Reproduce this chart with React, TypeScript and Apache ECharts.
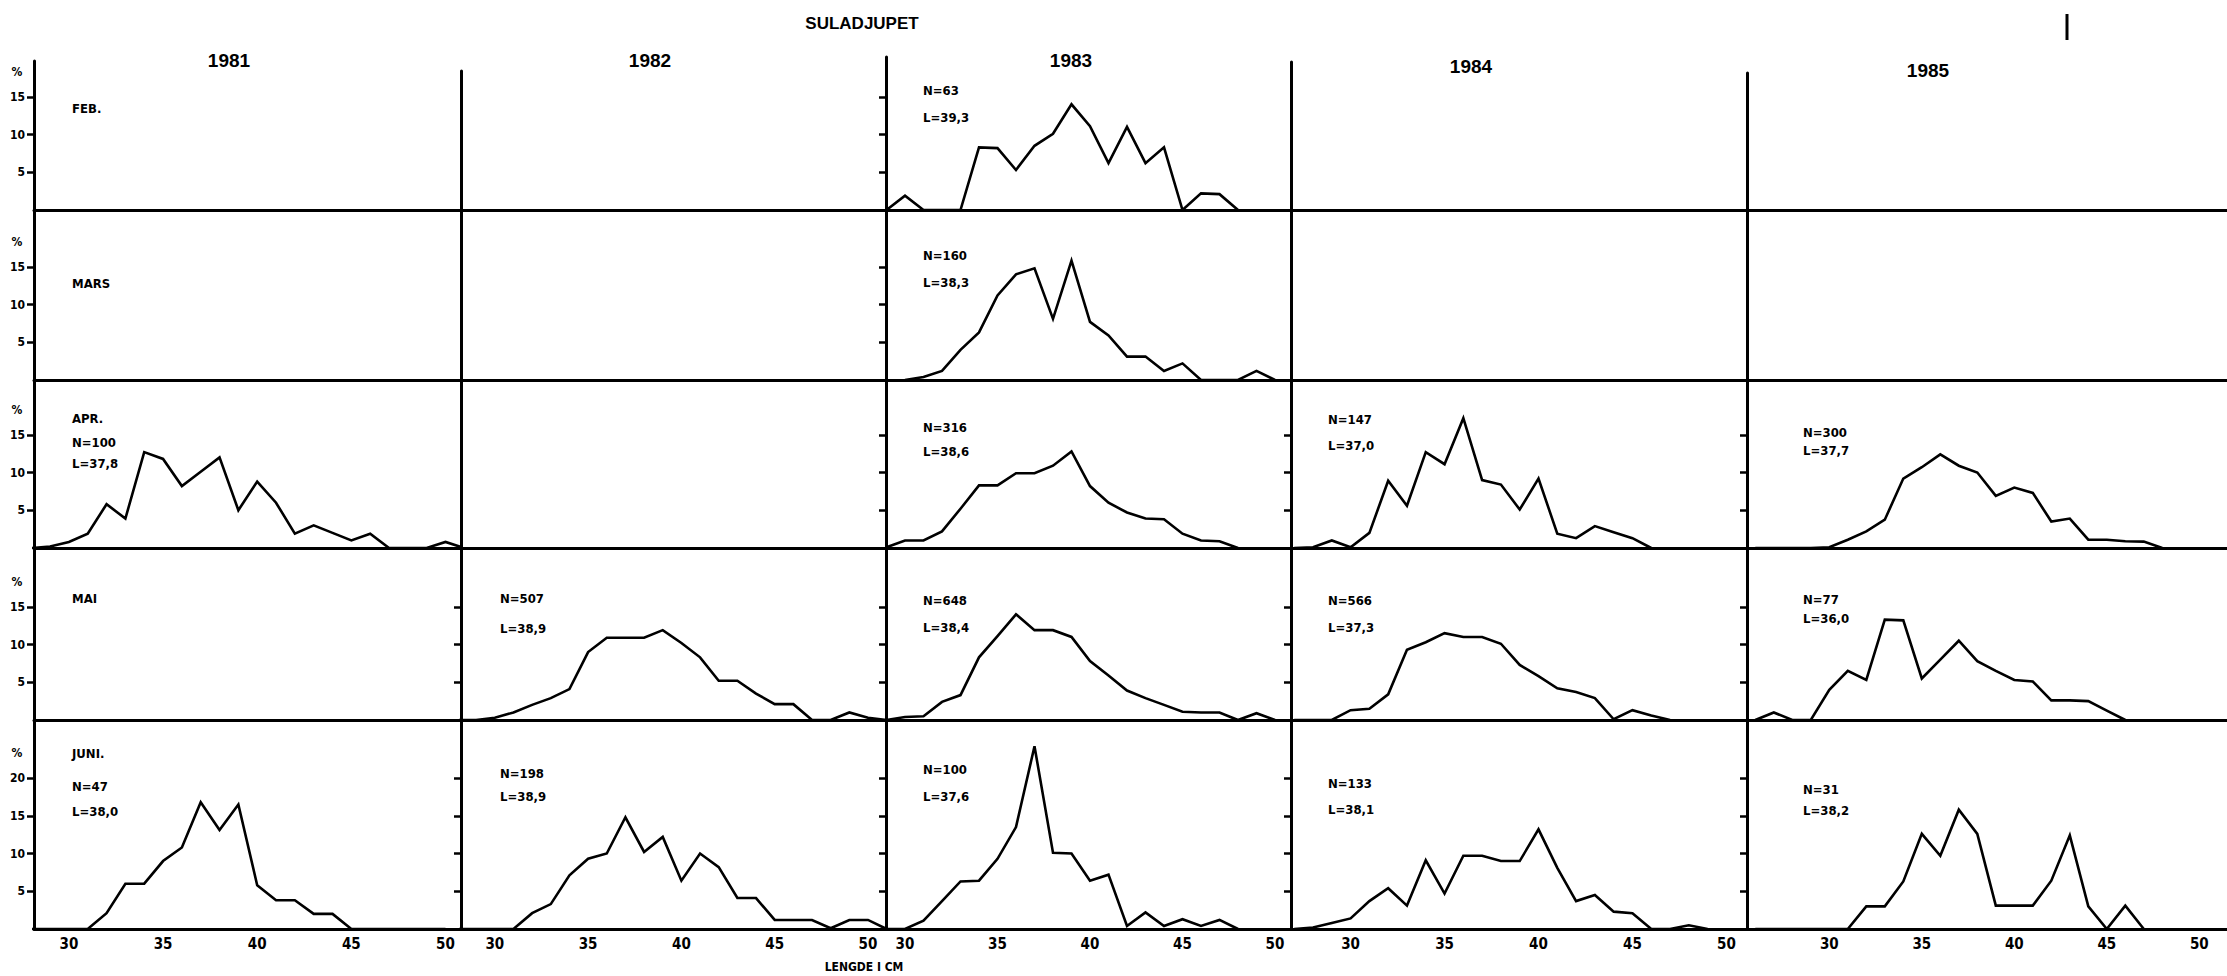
import React, { useEffect, useRef } from 'react';
import * as echarts from 'echarts';

// ---------- labels ----------
const title = 'SULADJUPET';
const years = ['1981', '1982', '1983', '1984', '1985'];
const months = ['FEB.', 'MARS', 'APR.', 'MAI', 'JUNI.'];
const xAxisTitle = 'LENGDE I CM';
const xTicks = [30, 35, 40, 45, 50];
const yTicksUpper = [5, 10, 15];
const yTicksJune = [5, 10, 15, 20];

const sampleN = [
  ['', '', 'N=63', '', ''],
  ['', '', 'N=160', '', ''],
  ['N=100', '', 'N=316', 'N=147', 'N=300'],
  ['', 'N=507', 'N=648', 'N=566', 'N=77'],
  ['N=47', 'N=198', 'N=100', 'N=133', 'N=31'],
];
const meanL = [
  ['', '', 'L=39,3', '', ''],
  ['', '', 'L=38,3', '', ''],
  ['L=37,8', '', 'L=38,6', 'L=37,0', 'L=37,7'],
  ['', 'L=38,9', 'L=38,4', 'L=37,3', 'L=36,0'],
  ['L=38,0', 'L=38,9', 'L=37,6', 'L=38,1', 'L=38,2'],
];

// ---------- data: percent per 1-cm length class, first class given by *Start ----------
const feb1983Start = 29;
const feb1983 = [0, 1.9, 0, 0, 0, 8.3, 8.2, 5.3, 8.5, 10.1, 14.0, 11.1, 6.2, 11.0, 6.2, 8.3, 0, 2.2, 2.1, 0];

const mars1983Start = 30;
const mars1983 = [0, 0.4, 1.2, 4.0, 6.3, 11.2, 14.0, 14.8, 8.1, 15.8, 7.7, 5.9, 3.1, 3.1, 1.2, 2.2, 0, 0, 0, 1.2, 0];

const apr1981Start = 28;
const apr1981 = [0, 0.2, 0.8, 1.9, 5.8, 3.9, 12.7, 11.8, 8.2, 10.1, 12.0, 5.0, 8.8, 6.0, 1.9, 3.0, 2.0, 1.0, 1.9, 0, 0, 0, 0.8, 0];
const apr1983Start = 29;
const apr1983 = [0.1, 1.0, 1.0, 2.2, 5.2, 8.3, 8.3, 9.9, 9.9, 10.9, 12.8, 8.2, 6.0, 4.7, 3.9, 3.8, 1.9, 1.0, 0.9, 0];
const apr1984Start = 27;
const apr1984 = [0, 0.1, 1.0, 0.1, 2.0, 8.9, 5.6, 12.7, 11.1, 17.2, 9.0, 8.4, 5.1, 9.2, 1.9, 1.3, 2.9, 2.1, 1.3, 0];
const apr1985Start = 26;
const apr1985 = [0, 0, 0, 0, 0.1, 1.1, 2.2, 3.75, 9.2, 10.7, 12.4, 10.9, 10.0, 6.9, 8.0, 7.3, 3.5, 3.9, 1.1, 1.1, 0.9, 0.85, 0];

const mai1982Start = 28;
const mai1982 = [0, 0, 0.3, 1.0, 2.0, 2.9, 4.1, 9.0, 10.9, 10.9, 10.9, 11.9, 10.2, 8.3, 5.2, 5.2, 3.5, 2.1, 2.1, 0, 0, 1.0, 0.3, 0];
const mai1983Start = 29;
const mai1983 = [0, 0.4, 0.5, 2.4, 3.3, 8.3, 11.1, 14.0, 11.9, 11.9, 11.0, 7.8, 5.9, 3.9, 2.9, 2.0, 1.1, 1.0, 1.0, 0, 0.9, 0];
const mai1984Start = 27;
const mai1984 = [0, 0, 0, 1.3, 1.5, 3.4, 9.3, 10.3, 11.5, 11.0, 11.0, 10.1, 7.3, 5.8, 4.2, 3.7, 2.9, 0.1, 1.3, 0.6, 0];
const mai1985Start = 26;
const mai1985 = [0, 1.0, 0, 0, 4.0, 6.5, 5.3, 13.3, 13.2, 5.5, 8.0, 10.5, 7.8, 6.5, 5.3, 5.1, 2.6, 2.6, 2.5, 1.25, 0];

const jun1981Start = 28;
const jun1981 = [0, 0, 0, 0, 2.1, 6.0, 6.0, 9.0, 10.8, 16.8, 13.1, 16.5, 5.8, 3.8, 3.8, 2.0, 2.0, 0, 0, 0, 0, 0, 0];
const jun1982Start = 28;
const jun1982 = [0, 0, 0, 0, 2.1, 3.3, 7.1, 9.3, 10.0, 14.8, 10.2, 12.2, 6.4, 10.0, 8.2, 4.1, 4.1, 1.2, 1.2, 1.2, 0.1, 1.2, 1.2, 0];
const jun1983Start = 29;
const jun1983 = [0, 0, 1.1, 3.7, 6.3, 6.4, 9.3, 13.5, 24.2, 10.1, 10.0, 6.4, 7.2, 0.4, 2.2, 0.4, 1.3, 0.4, 1.2, 0];
const jun1984Start = 27;
const jun1984 = [0, 0.2, 0.8, 1.4, 3.7, 5.4, 3.1, 9.1, 4.7, 9.7, 9.7, 9.0, 9.0, 13.2, 8.1, 3.7, 4.5, 2.3, 2.1, 0, 0, 0.5, 0];
const jun1985Start = 26;
const jun1985 = [0, 0, 0, 0, 0, 0, 3.0, 3.0, 6.3, 12.6, 9.7, 15.8, 12.6, 3.1, 3.1, 3.1, 6.4, 12.4, 3.0, 0, 3.1, 0];

type Panel = { start: number; values: number[] } | null;
const panelData: Panel[][] = [
  [null, null, { start: feb1983Start, values: feb1983 }, null, null],
  [null, null, { start: mars1983Start, values: mars1983 }, null, null],
  [
    { start: apr1981Start, values: apr1981 },
    null,
    { start: apr1983Start, values: apr1983 },
    { start: apr1984Start, values: apr1984 },
    { start: apr1985Start, values: apr1985 },
  ],
  [
    null,
    { start: mai1982Start, values: mai1982 },
    { start: mai1983Start, values: mai1983 },
    { start: mai1984Start, values: mai1984 },
    { start: mai1985Start, values: mai1985 },
  ],
  [
    { start: jun1981Start, values: jun1981 },
    { start: jun1982Start, values: jun1982 },
    { start: jun1983Start, values: jun1983 },
    { start: jun1984Start, values: jun1984 },
    { start: jun1985Start, values: jun1985 },
  ],
];

// ---------- layout ----------
const W = 2227;
const H = 976;
const colEdges = [34, 461, 886, 1291, 1747, 2227];
const colTops = [61, 71, 57, 62, 73];
const rowBaselines = [210, 380, 548, 720, 929];
const tick30Px = [68.9, 494.8, 905, 1350.6, 1829.3];
const pxPerCm = [18.83, 18.66, 18.5, 18.79, 18.5];
const PX_PER_PCT = 7.55;
const yearX = [229, 650, 1071, 1471, 1928];
const yearY = [60, 60, 60, 66, 70];
const monthY = [108, 283, 418, 598, 753];
const pctLevel = [18.3, 18.3, 18.3, 18.3, 23.3];
const noteX = [72, 500, 923, 1328, 1803];
const noteNY = [
  [0, 0, 90, 0, 0],
  [0, 0, 255, 0, 0],
  [442, 0, 427, 419, 432],
  [0, 598, 600, 600, 599],
  [786, 773, 769, 783, 789],
];
const noteLY = [
  [0, 0, 117, 0, 0],
  [0, 0, 282, 0, 0],
  [463, 0, 451, 445, 450],
  [0, 628, 627, 627, 618],
  [811, 796, 796, 809, 810],
];

const NARROW = '"Liberation Sans Narrow", "DejaVu Sans Condensed", "Roboto Condensed", "Liberation Sans", sans-serif';
const WIDE = '"Liberation Sans", "DejaVu Sans", sans-serif';

function text(t: string, x: number, y: number, font: string, align = 'left') {
  return {
    type: 'text',
    x,
    y,
    silent: true,
    style: {
      text: t,
      fill: '#000',
      font,
      align,
      textAlign: align,
      verticalAlign: 'middle',
      textVerticalAlign: 'middle',
    },
  };
}

function buildOption() {
  const grids: any[] = [];
  const xAxes: any[] = [];
  const yAxes: any[] = [];
  const series: any[] = [];
  const elements: any[] = [];

  for (let r = 0; r < 5; r++) {
    for (let c = 0; c < 5; c++) {
      const idx = r * 5 + c;
      const left = colEdges[c];
      const width = colEdges[c + 1] - colEdges[c];
      const top = r === 0 ? colTops[c] : rowBaselines[r - 1];
      const height = rowBaselines[r] - top;
      const ymax = height / PX_PER_PCT;
      const xmin = 30 - (tick30Px[c] - colEdges[c]) / pxPerCm[c];
      const xmax = 30 + (colEdges[c + 1] - tick30Px[c]) / pxPerCm[c];
      const panel = panelData[r][c];
      const yt = r === 4 ? yTicksJune : yTicksUpper;

      grids.push({ left, top, width, height, containLabel: false, outerBoundsMode: 'none', show: false });
      xAxes.push({
        type: 'value',
        gridIndex: idx,
        min: xmin,
        max: xmax,
        axisLine: { show: true, onZero: false, lineStyle: { color: '#000', width: 3 } },
        axisTick: { show: false },
        splitLine: { show: false },
        axisLabel: {
          show: r === 4,
          customValues: xTicks,
          margin: 7,
          color: '#000',
          fontFamily: NARROW,
          fontWeight: 'bold',
          fontSize: 15,
          formatter: (v: number) => (xTicks.includes(v) ? String(v) : ''),
        },
      });
      yAxes.push({
        type: 'value',
        gridIndex: idx,
        min: 0,
        max: ymax,
        axisLine: { show: true, onZero: false, lineStyle: { color: '#000', width: 3 } },
        axisTick: {
          show: c === 0 || panel !== null,
          inside: false,
          length: 7,
          customValues: yt,
          lineStyle: { color: '#000', width: 2.5 },
        },
        splitLine: { show: false },
        axisLabel: {
          show: c === 0,
          customValues: yt,
          margin: 9,
          color: '#000',
          fontFamily: NARROW,
          fontWeight: 'bold',
          fontSize: 12,
          formatter: (v: number) => (yt.includes(v) ? String(v) : ''),
        },
      });

      if (panel) {
        series.push({
          type: 'line',
          xAxisIndex: idx,
          yAxisIndex: idx,
          data: panel.values.map((v, i) => [panel.start + i, v]),
          showSymbol: false,
          symbol: 'none',
          silent: true,
          clip: true,
          lineStyle: { color: '#000', width: 2.6, join: 'miter' },
        });
      }

      if (sampleN[r][c]) elements.push(text(sampleN[r][c], noteX[c], noteNY[r][c], `bold 13px ${NARROW}`));
      if (meanL[r][c]) elements.push(text(meanL[r][c], noteX[c], noteLY[r][c], `bold 13px ${NARROW}`));
    }
    elements.push(text(months[r], 72, monthY[r], `bold 13px ${NARROW}`));
    elements.push(text('%', 17, rowBaselines[r] - pctLevel[r] * PX_PER_PCT, `bold 12px ${NARROW}`, 'center'));
  }

  years.forEach((y, i) => elements.push(text(y, yearX[i], yearY[i], `bold 19px ${WIDE}`, 'center')));
  elements.push(text(title, 862, 23, `bold 17px ${WIDE}`, 'center'));
  elements.push(text(xAxisTitle, 864, 967, `bold 12px ${NARROW}`, 'center'));
  elements.push({
    type: 'line',
    silent: true,
    shape: { x1: 2067, y1: 14, x2: 2067, y2: 40 },
    style: { stroke: '#000', lineWidth: 3 },
  });

  return {
    animation: false,
    backgroundColor: '#fff',
    grid: grids,
    xAxis: xAxes,
    yAxis: yAxes,
    series,
    graphic: { elements },
  };
}

export default function App() {
  const ref = useRef<HTMLDivElement>(null);
  useEffect(() => {
    if (!ref.current) return;
    const chart = echarts.init(ref.current, null, { renderer: 'svg', width: W, height: H });
    chart.setOption(buildOption() as any);
    return () => chart.dispose();
  }, []);
  return (
    <div
      ref={ref}
      style={{ position: 'fixed', left: 0, top: 0, width: W, height: H, background: '#fff' }}
    />
  );
}
